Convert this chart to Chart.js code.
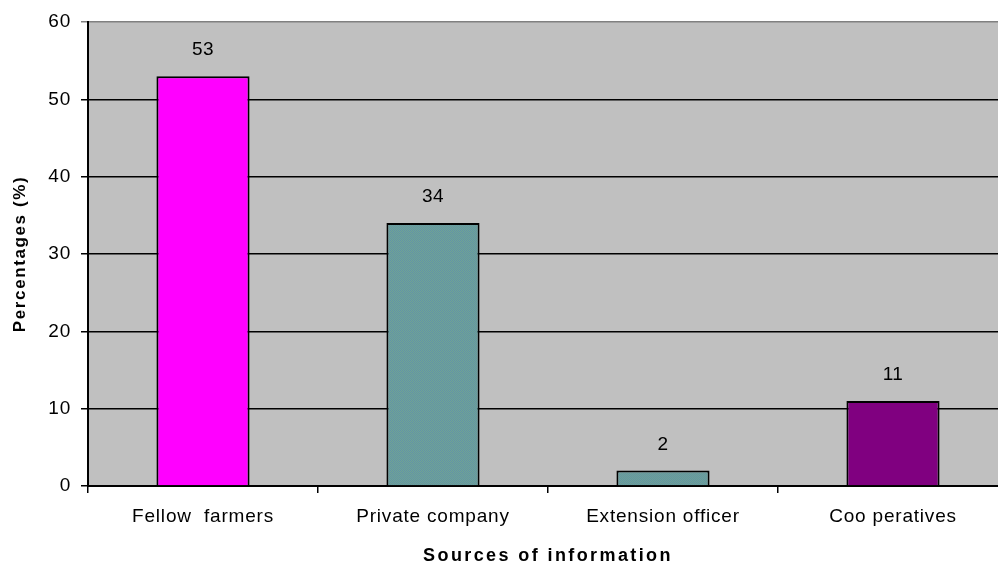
<!DOCTYPE html>
<html>
<head>
<meta charset="utf-8">
<script src="https://cdn.jsdelivr.net/npm/chart.js@4"></script>
<style>
  html, body { margin: 0; padding: 0; background: #fff; overflow: hidden; }
  #wrap { width: 1008px; height: 566px; }
</style>
</head>
<body>
<div id="wrap"><canvas id="graph"></canvas></div>
<script>
// Данные графика
var categories = ['Fellow  farmers', 'Private company', 'Extension officer', 'Coo peratives'];
var percentages = [53, 34, 2, 11];
var yMin = 0, yMax = 60, yStep = 10;
var xTitle = 'Sources of information';
var yTitle = 'Percentages (%)';

var FONT = '"Liberation Sans", Arial, sans-serif';

// Узор для сине-зелёных столбцов (мелкая точечная штриховка)
function tealPattern() {
    var c = document.createElement('canvas');
    c.width = 2; c.height = 2;
    var p = c.getContext('2d');
    p.fillStyle = '#70a592'; p.fillRect(0, 0, 2, 2);
    p.fillStyle = '#6292a8'; p.fillRect(0, 0, 1, 1); p.fillRect(1, 1, 1, 1);
    return p.createPattern(c, 'repeat');
}
var teal = tealPattern();
var barColors = ['#ff00ff', teal, teal, '#800080'];

// Серый фон области построения + разрядка текста
var plotBg = {
    id: 'plotBg',
    beforeDraw: function (chart) {
        var a = chart.chartArea, ctx = chart.ctx;
        ctx.save();
        ctx.fillStyle = '#c0c0c0';
        ctx.fillRect(a.left, a.top, a.right - a.left, a.bottom - a.top);
        ctx.restore();
        ctx.letterSpacing = '0.8px';
    }
};

// Подписи значений над столбцами и подписи осей
var labels = {
    id: 'labels',
    afterDatasetsDraw: function (chart) {
        var ctx = chart.ctx, a = chart.chartArea;
        var meta = chart.getDatasetMeta(0);
        ctx.save();
        ctx.fillStyle = '#000';
        ctx.letterSpacing = '0.5px';
        ctx.font = '19px ' + FONT;
        ctx.textAlign = 'center';
        ctx.textBaseline = 'middle';
        meta.data.forEach(function (bar, i) {
            ctx.fillText(String(percentages[i]), bar.x, bar.y - 26);
        });

        // подпись оси X
        ctx.font = 'bold 18px ' + FONT;
        ctx.letterSpacing = '2.4px';
        ctx.textBaseline = 'alphabetic';
        ctx.fillText(xTitle, (a.left + a.right) / 2, 561);

        // подпись оси Y
        ctx.font = 'bold 17px ' + FONT;
        ctx.letterSpacing = '1.6px';
        ctx.translate(20, (a.top + a.bottom) / 2);
        ctx.rotate(-Math.PI / 2);
        ctx.textBaseline = 'middle';
        ctx.fillText(yTitle, 0, 0);
        ctx.restore();
    }
};

var ctx = document.getElementById('graph').getContext('2d');
var chart = new Chart(ctx, {
    type: 'bar',
    data: {
        labels: categories,
        datasets: [{
            data: percentages,
            backgroundColor: barColors,
            borderColor: '#000',
            borderWidth: 2,
            borderSkipped: 'bottom',
            categoryPercentage: 1,
            barPercentage: 0.405
        }]
    },
    plugins: [plotBg, labels],
    options: {
        responsive: true,
        maintainAspectRatio: false,
        animation: false,
        layout: { padding: { top: 22, left: 0, right: 0, bottom: 0 } },
        plugins: { legend: { display: false }, tooltip: { enabled: false } },
        scales: {
            x: {
                grid: { offset: true, drawOnChartArea: false, color: '#000', lineWidth: 1.5, tickLength: 7 },
                border: { color: '#000', width: 2 },
                ticks: { color: '#000', font: { size: 19, family: FONT }, padding: 12, maxRotation: 0 },
                afterFit: function (scale) { scale.height = 80; }
            },
            y: {
                min: yMin,
                max: yMax,
                ticks: { stepSize: yStep, color: '#000', font: { size: 19, family: FONT }, padding: 10 },
                grid: {
                    color: function (c) { return c.tick && c.tick.value === yMax ? '#808080' : '#000'; },
                    lineWidth: 1.5,
                    tickLength: 7
                },
                border: { color: '#000', width: 2 },
                afterFit: function (scale) { scale.width = 88; }
            }
        }
    }
});
</script>
</body>
</html>
